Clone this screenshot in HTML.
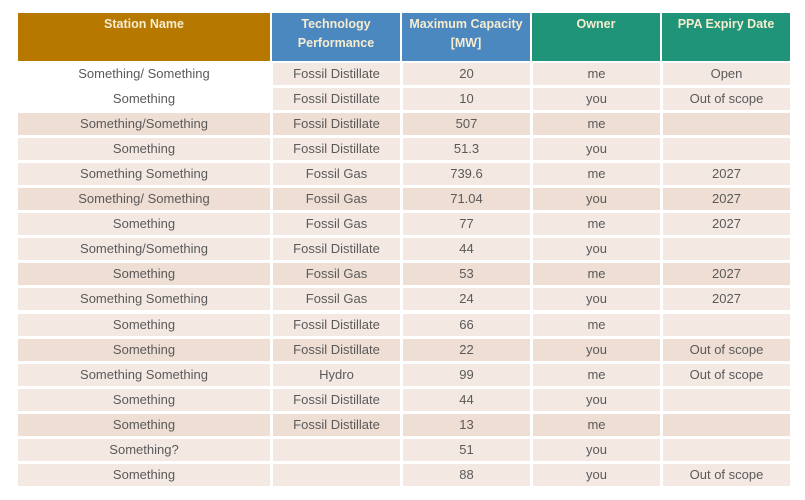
<!DOCTYPE html>
<html><head><meta charset="utf-8"><style>
body{margin:0;width:805px;height:500px;background:#fff;position:relative;overflow:hidden;font-family:"Liberation Sans",sans-serif}
.h{position:absolute;top:13px;height:48px;color:#f6ecd0;font-weight:bold;font-size:12.5px;text-align:center;line-height:19px;padding-top:2px;box-sizing:border-box}
.c{position:absolute;height:22px;line-height:21px;text-align:center;color:#5a5a5a;font-size:13px;white-space:nowrap}
</style></head><body>
<div class="h" style="left:18px;width:252px;background:#b77800">Station Name</div>
<div class="h" style="left:272px;width:128px;background:#4b88c0">Technology<br>Performance</div>
<div class="h" style="left:402px;width:128px;background:#4b88c0">Maximum Capacity<br>[MW]</div>
<div class="h" style="left:532px;width:128px;background:#1f9478">Owner</div>
<div class="h" style="left:662px;width:128px;background:#1f9478">PPA Expiry Date</div>
<div id="rows"></div>
<script>
const names=["Something/ Something","Something","Something/Something","Something","Something Something","Something/ Something","Something","Something/Something","Something","Something Something","Something","Something","Something Something","Something","Something","Something?","Something"];
const tech=["Fossil Distillate","Fossil Distillate","Fossil Distillate","Fossil Distillate","Fossil Gas","Fossil Gas","Fossil Gas","Fossil Distillate","Fossil Gas","Fossil Gas","Fossil Distillate","Fossil Distillate","Hydro","Fossil Distillate","Fossil Distillate","",""];
const cap=["20","10","507","51.3","739.6","71.04","77","44","53","24","66","22","99","44","13","51","88"];
const owner=["me","you","me","you","me","you","me","you","me","you","me","you","me","you","me","you","you"];
const ppa=["Open","Out of scope","","","2027","2027","2027","","2027","2027","","Out of scope","Out of scope","","","","Out of scope"];
const cols=[[18,252],[273,127],[403,127],[533,127],[663,127]];
const host=document.getElementById('rows');
names.forEach((n,i)=>{
  const dark=(i%3===2);
  const vals=[n,tech[i],cap[i],owner[i],ppa[i]];
  vals.forEach((v,j)=>{
    const d=document.createElement('div');
    d.className='c';
    
    
    d.style.left=cols[j][0]+'px';d.style.width=cols[j][1]+'px';
    d.style.top=(63+i*25.05)+'px';
    let bg=dark?'#eeded4':'#f4e8e3';
    if(j===0&&i<2)bg='#fff';
    d.style.background=bg;
    d.textContent=v;
    host.appendChild(d);
  });
});
</script>
</body></html>
